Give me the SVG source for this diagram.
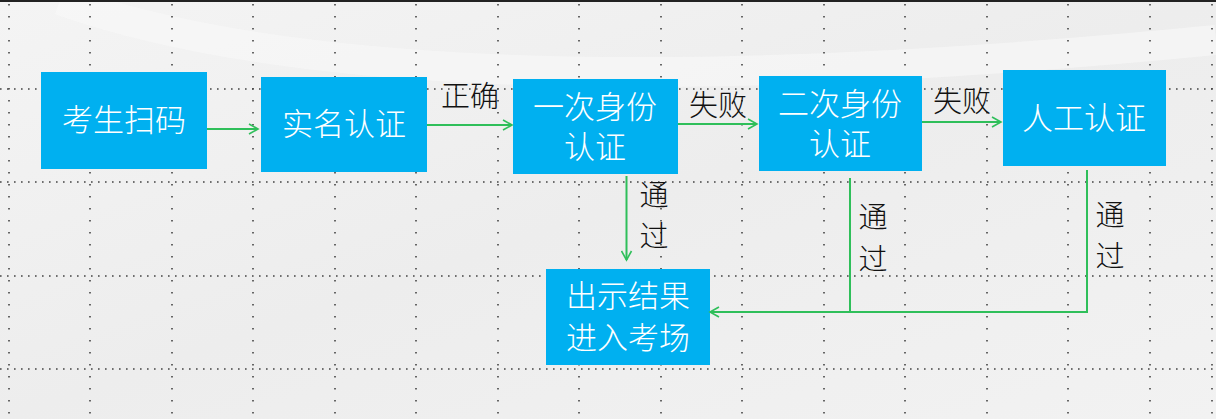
<svg xmlns="http://www.w3.org/2000/svg" width="1216" height="419" viewBox="0 0 1216 419">
<defs>
<linearGradient id="bg" x1="0" y1="0" x2="1" y2="1"><stop offset="0" stop-color="#f4f4f4"/><stop offset="0.5" stop-color="#ededed"/><stop offset="1" stop-color="#f2f2f2"/></linearGradient>
<marker id="ar" markerWidth="12" markerHeight="12" refX="10" refY="6" orient="auto" markerUnits="userSpaceOnUse"><path d="M1,1 L10,6 L1,11" fill="none" stroke="#2fbf5a" stroke-width="1.6"/></marker>
<style>
.box{fill:#00b0f0}
.bt{font-family:"Noto Sans CJK SC",sans-serif;font-size:31px;font-weight:300;fill:#fff;text-anchor:middle}
.lb{font-family:"Noto Sans CJK SC",sans-serif;font-size:29px;font-weight:300;fill:#111;text-anchor:middle}
.c{fill:none;stroke:#2fbf5a;stroke-width:2}
.gv{stroke:#444;stroke-width:1.6;stroke-dasharray:1.6 10.4}
.gh{stroke:#444;stroke-width:1.6;stroke-dasharray:1.6 5.4}
</style>
</defs>
<rect width="1216" height="419" fill="url(#bg)"/>
<path d="M60,0 Q400,120 1216,40" fill="none" stroke="#f8f8f8" stroke-width="30" opacity="0.6"/>
<line x1="0" y1="1" x2="1216" y2="1" stroke="#222" stroke-width="2"/>
<g id="grid">
<line class="gh" x1="0" y1="89" x2="1216" y2="89"/><line class="gh" x1="0" y1="182" x2="1216" y2="182"/><line class="gh" x1="0" y1="276" x2="1216" y2="276"/><line class="gh" x1="0" y1="369" x2="1216" y2="369"/>
<line class="gv" x1="9" y1="4" x2="9" y2="419"/><line class="gv" x1="90" y1="4" x2="90" y2="419"/><line class="gv" x1="172" y1="4" x2="172" y2="419"/><line class="gv" x1="253" y1="4" x2="253" y2="419"/><line class="gv" x1="335" y1="4" x2="335" y2="419"/><line class="gv" x1="416" y1="4" x2="416" y2="419"/><line class="gv" x1="498" y1="4" x2="498" y2="419"/><line class="gv" x1="579" y1="4" x2="579" y2="419"/><line class="gv" x1="661" y1="4" x2="661" y2="419"/><line class="gv" x1="742" y1="4" x2="742" y2="419"/><line class="gv" x1="824" y1="4" x2="824" y2="419"/><line class="gv" x1="905" y1="4" x2="905" y2="419"/><line class="gv" x1="987" y1="4" x2="987" y2="419"/><line class="gv" x1="1068" y1="4" x2="1068" y2="419"/><line class="gv" x1="1150" y1="4" x2="1150" y2="419"/><line class="gv" x1="1212" y1="4" x2="1212" y2="419"/>
</g>
<g id="n1"><rect class="box" x="41" y="72" width="166" height="97"/><text class="bt" x="124" y="131">考生扫码</text></g>
<g id="n2"><rect class="box" x="261" y="77" width="166" height="95"/><text class="bt" x="344" y="135">实名认证</text></g>
<g id="n3"><rect class="box" x="513" y="79" width="165" height="95"/><text class="bt" x="595" y="118">一次身份</text><text class="bt" x="595" y="158">认证</text></g>
<g id="n4"><rect class="box" x="759" y="76" width="163" height="95"/><text class="bt" x="840" y="115">二次身份</text><text class="bt" x="840" y="155">认证</text></g>
<g id="n5"><rect class="box" x="1003" y="70" width="163" height="96"/><text class="bt" x="1084" y="129">人工认证</text></g>
<g id="n6"><rect class="box" x="546" y="269" width="164" height="96"/><text class="bt" x="628" y="307">出示结果</text><text class="bt" x="628" y="349">进入考场</text></g>
<g id="connectors">
<line class="c" x1="207" y1="129" x2="258" y2="129" marker-end="url(#ar)"/>
<line class="c" x1="427" y1="125" x2="512" y2="125" marker-end="url(#ar)"/>
<line class="c" x1="678" y1="124" x2="757" y2="124" marker-end="url(#ar)"/>
<line class="c" x1="922" y1="122" x2="1001" y2="122" marker-end="url(#ar)"/>
<line class="c" x1="626.5" y1="176" x2="626.5" y2="260" marker-end="url(#ar)"/>
<polyline class="c" points="850,178 850,312 710,312" marker-end="url(#ar)"/>
<polyline class="c" points="1087,170 1087,312 850,312"/>
</g>
<g id="labels">
<text class="lb" x="470" y="107">正确</text>
<text class="lb" x="718" y="116">失败</text>
<text class="lb" x="962" y="112">失败</text>
<text class="lb" x="654" y="206">通</text><text class="lb" x="654" y="247">过</text>
<text class="lb" x="873" y="228">通</text><text class="lb" x="873" y="270">过</text>
<text class="lb" x="1110" y="226">通</text><text class="lb" x="1110" y="267">过</text>
</g>
</svg>
